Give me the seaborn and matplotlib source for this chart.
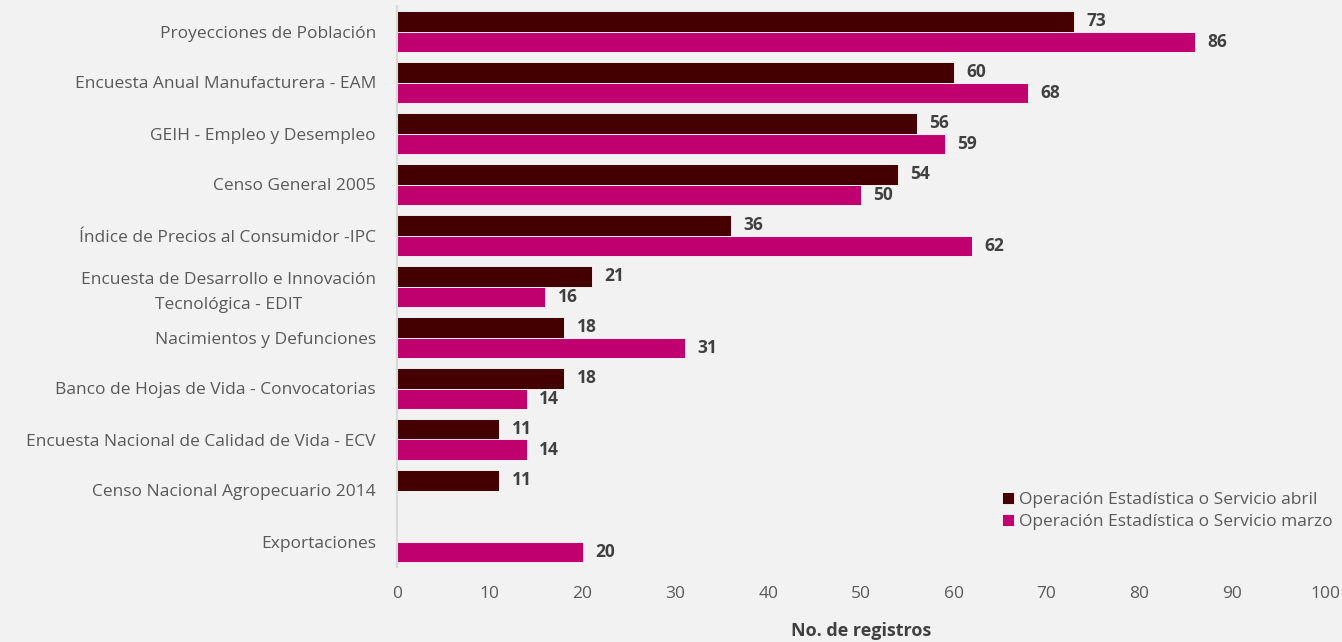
import numpy as np
import pandas as pd
import matplotlib
matplotlib.use("Agg")
import matplotlib.pyplot as plt
import seaborn as sns

categories = [
    "Proyecciones de Población",
    "Encuesta Anual Manufacturera - EAM",
    "GEIH - Empleo y Desempleo",
    "Censo General 2005",
    "Índice de Precios al Consumidor -IPC",
    "Encuesta de Desarrollo e Innovación\nTecnológica - EDIT",
    "Nacimientos y Defunciones",
    "Banco de Hojas de Vida - Convocatorias",
    "Encuesta Nacional de Calidad de Vida - ECV",
    "Censo Nacional Agropecuario 2014",
    "Exportaciones",
]
abril = [73, 60, 56, 54, 36, 21, 18, 18, 11, 11, np.nan]
marzo = [86, 68, 59, 50, 62, 16, 31, 14, 14, np.nan, 20]
series_names = ["Operación Estadística o Servicio abril",
                "Operación Estadística o Servicio marzo"]
colors = ["#440000", "#c0006e"]

df = pd.DataFrame({
    "categoria": categories * 2,
    "serie": [series_names[0]] * len(categories) + [series_names[1]] * len(categories),
    "valor": abril + marzo,
})

sns.set_theme(style="white")
plt.rcParams["font.family"] = ["Open Sans", "DejaVu Sans"]
bg = "#f2f2f2"
fs = 12.5

fig = plt.figure(figsize=(13.42, 6.42), dpi=100, facecolor=bg)
ax = fig.add_axes([397 / 1342, 1 - 567 / 642, (1325 - 397) / 1342, (567 - 6) / 642])
ax.set_facecolor(bg)

sns.barplot(data=df, y="categoria", x="valor", hue="serie", order=categories,
            hue_order=series_names, palette=colors, saturation=1, orient="h",
            width=0.8, edgecolor="white", linewidth=0.6, ax=ax, legend=True)

for container in ax.containers:
    labels = ["" if np.isnan(v) else f"{v:.0f}" for v in container.datavalues]
    ax.bar_label(container, labels=labels, padding=9, fontsize=fs,
                 fontweight="bold", color="#404040")

ax.set_xlim(0, 100)
ax.set_xticks(range(0, 101, 10))
ax.set_ylabel("")
ax.set_xlabel("No. de registros", fontsize=13, fontweight="bold", color="#404040", labelpad=14)
ax.tick_params(axis="x", colors="#595959", labelsize=fs, length=0, pad=14)
ax.tick_params(axis="y", colors="#595959", labelsize=fs, length=0, pad=20)
for side in ["top", "right", "bottom"]:
    ax.spines[side].set_visible(False)
ax.spines["left"].set_color("#d9d9d9")
ax.spines["left"].set_linewidth(1.5)

# center-align each category label while keeping its right edge near the axis
fig.canvas.draw()
renderer = fig.canvas.get_renderer()
trans = matplotlib.transforms.blended_transform_factory(ax.transAxes, ax.transData)
for lbl in ax.get_yticklabels():
    lbl.set_linespacing(1.7)
    w = lbl.get_window_extent(renderer).width
    x_disp = ax.transAxes.transform((0, 0))[0] - 21 - w / 2
    lbl.set_horizontalalignment("center")
    lbl.set_multialignment("center")
    lbl.set_x(ax.transAxes.inverted().transform((x_disp, 0))[0])
    lbl.set_transform(trans)

ax.legend(loc="lower right", bbox_to_anchor=(1.025, 0.038), frameon=False,
          fontsize=fs, handlelength=0.7, handleheight=0.7, handletextpad=0.3,
          labelspacing=0.35, labelcolor="#595959")

fig.savefig("out.png", dpi=100, facecolor=bg)
